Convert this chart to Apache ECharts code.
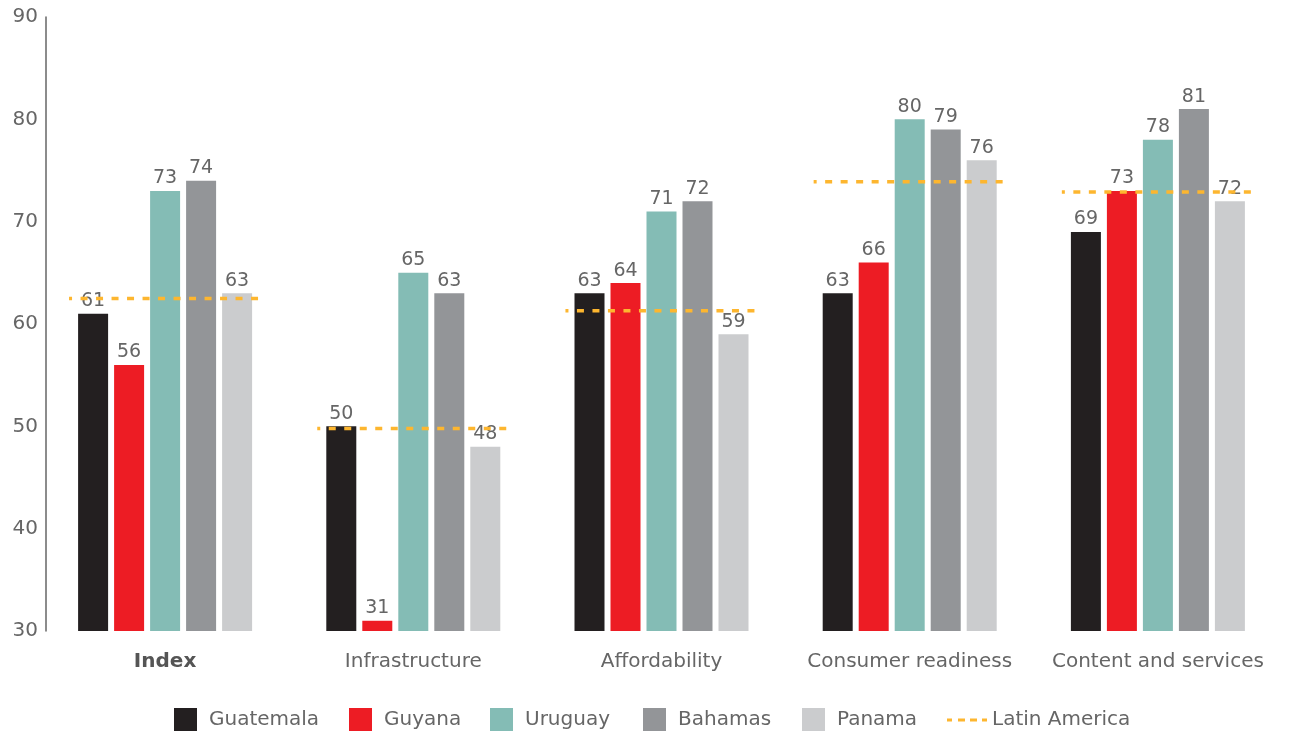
<!DOCTYPE html>
<html>
<head>
<meta charset="utf-8">
<style>
  html, body { margin: 0; padding: 0; background: #fff; }
  #chart { width: 1289px; height: 736px; }
</style>
<script src="https://cdn.jsdelivr.net/npm/echarts@6/dist/echarts.min.js"></script>
</head>
<body>
<div id="chart"></div>
<script>
// Scores by pillar
const categories = ['Index', 'Infrastructure', 'Affordability', 'Consumer readiness', 'Content and services'];
const guatemala = [61, 50, 63, 63, 69];
const guyana    = [56, 31, 64, 66, 73];
const uruguay   = [73, 65, 71, 80, 78];
const bahamas   = [74, 63, 72, 79, 81];
const panama    = [63, 48, 59, 76, 72];
const latinAmerica = [62.5, 49.8, 61.3, 73.9, 72.9];
const yTicks = [30, 40, 50, 60, 70, 80, 90];

const FONT = 'DejaVu Sans';
const TEXT = '#666';
const LATAM_COLOR = '#FDB62F';

const countries = [
  { name: 'Guatemala', data: guatemala, color: '#231F20', legendLeft: 174 },
  { name: 'Guyana',    data: guyana,    color: '#ED1C24', legendLeft: 349 },
  { name: 'Uruguay',   data: uruguay,   color: '#84BCB5', legendLeft: 490 },
  { name: 'Bahamas',   data: bahamas,   color: '#939598', legendLeft: 643 },
  { name: 'Panama',    data: panama,    color: '#CBCCCE', legendLeft: 802 }
];

const chart = echarts.init(document.getElementById('chart'), null, { renderer: 'canvas' });

const barSeries = countries.map(c => ({
  name: c.name,
  type: 'bar',
  data: c.data,
  barWidth: 30,
  barGap: '20%',
  itemStyle: { color: c.color },
  label: {
    show: true,
    position: 'top',
    distance: 3,
    color: TEXT,
    fontFamily: FONT,
    fontSize: 19
  },
  z: 2
}));

// Regional average drawn as a dashed segment across each category group
const latamSeries = {
  name: 'Latin America',
  type: 'custom',
  data: latinAmerica.map((v, i) => [i, v]),
  itemStyle: { color: LATAM_COLOR },
  z: 5,
  renderItem: function (params, api) {
    const p = api.coord([api.value(0), api.value(1)]);
    const band = api.size([1, 0])[0];
    const half = band * 0.387;
    return {
      type: 'line',
      shape: { x1: p[0] - half, y1: p[1], x2: p[0] + half, y2: p[1] },
      style: {
        stroke: LATAM_COLOR,
        lineWidth: 3.5,
        lineDash: [7, 8.5],
        lineDashOffset: 4
      }
    };
  }
};

const legendText = { color: TEXT, fontFamily: FONT, fontSize: 20 };

const legends = countries.map(c => ({
  data: [c.name],
  left: c.legendLeft,
  top: 708,
  padding: 0,
  itemWidth: 23,
  itemHeight: 23,
  itemGap: 0,
  icon: 'rect',
  textStyle: Object.assign({ padding: [0, 0, 0, 7] }, legendText),
  selectedMode: false
}));
legends.push({
  data: [{
    name: 'Latin America',
    icon: 'path://M0,0h5v3h-5zM11,0h7v3h-7zM23,0h7v3h-7zM35,0h5v3h-5z',
    itemStyle: { color: LATAM_COLOR }
  }],
  left: 947,
  top: 710,
  padding: 0,
  itemWidth: 40,
  itemHeight: 23,
  textStyle: Object.assign({ padding: [0, 0, 0, 0] }, legendText),
  selectedMode: false
});

chart.setOption({
  animation: false,
  backgroundColor: '#fff',
  grid: { left: 41, right: 7, top: 17, bottom: 105, containLabel: false },
  legend: legends,
  xAxis: {
    type: 'category',
    data: categories,
    axisLine: { show: false },
    axisTick: { show: false },
    axisLabel: {
      interval: 0,
      hideOverlap: false,
      margin: 21,
      color: TEXT,
      fontFamily: FONT,
      fontSize: 20,
      formatter: function (v) {
        return v === 'Index' ? '{b|' + v + '}' : v;
      },
      rich: {
        b: { fontWeight: 'bold', color: '#555', fontFamily: FONT, fontSize: 20 }
      }
    }
  },
  yAxis: {
    type: 'value',
    min: yTicks[0],
    max: yTicks[yTicks.length - 1],
    interval: 10,
    offset: -5,
    splitLine: { show: false },
    axisTick: { show: false },
    axisLine: { show: true, lineStyle: { color: '#666', width: 1.5 } },
    axisLabel: {
      margin: 8,
      color: TEXT,
      fontFamily: FONT,
      fontSize: 20
    }
  },
  series: barSeries.concat([latamSeries])
});
</script>
</body>
</html>
